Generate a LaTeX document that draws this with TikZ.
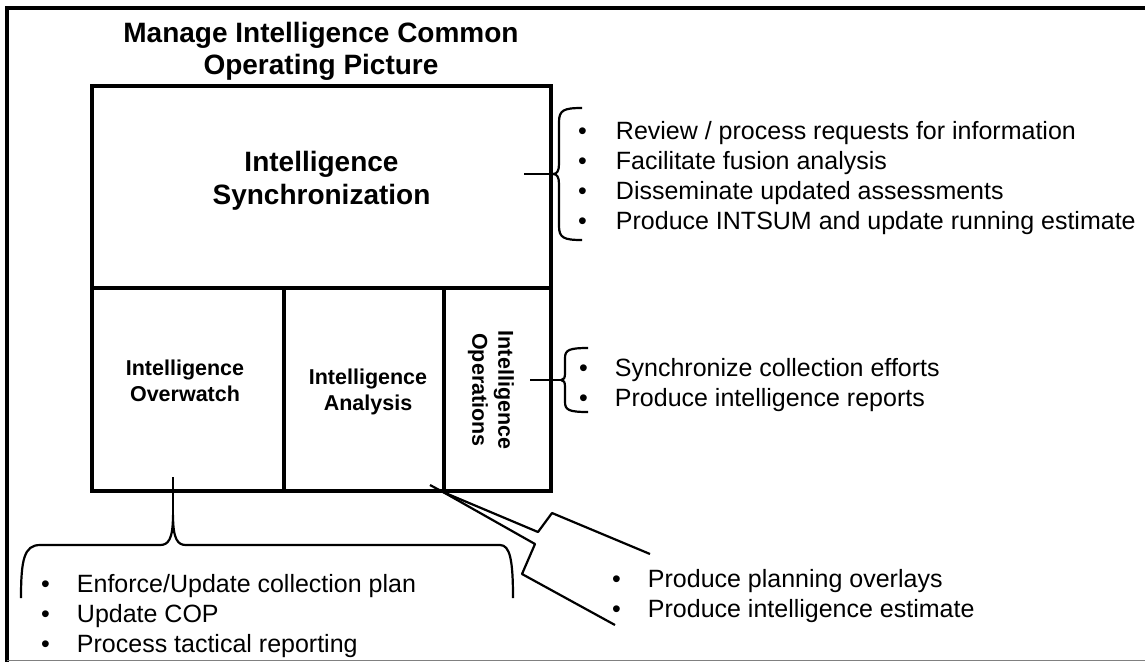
\documentclass[tikz,border=0pt]{standalone}
\usepackage{fontspec}
\setmainfont{Liberation Sans}
\usetikzlibrary{positioning}

\begin{document}
\begin{tikzpicture}[x=1pt,y=-1pt, box/.style={draw,line width=4pt}, cellText/.style={align=center,inner sep=0pt,font=\bfseries\fontsize{21.5}{26}\selectfont}, brace/.style={draw,line width=2.2pt,line join=round}, items/.style={anchor=base west,inner sep=0pt,font=\fontsize{25}{30}\selectfont}]
\useasboundingbox (0,0) rectangle (1145,662);
\fill[white] (0,0) rectangle (1145,662);
\draw[line width=4pt] (1145,8) -- (7,8) -- (7,662);
\draw[gray,line width=1.5pt] (7,660.5) -- (1145,660.5);
\node[align=center,inner sep=0pt,font=\bfseries\fontsize{28}{32}\selectfont] (title) at (321,51.5) {Manage Intelligence Common\\Operating Picture};
% the cells
\draw[box] (92,86) rectangle (551,491);
\draw[box] (92,288) -- (551,288) (284,288) -- (284,491) (444,288) -- (444,491);
\node[cellText,font=\bfseries\fontsize{28}{33}\selectfont] (sync) at (321.5,181) {Intelligence\\Synchronization};
\node[cellText] (overwatch) at (185,381) {Intelligence\\Overwatch};
\node[cellText] (analysis) at (368,392) {Intelligence\\Analysis};
\node[cellText,rotate=-90] (operations) at (491,390) {Intelligence\\Operations};
\coordinate (syncTip) at (524,174);
\coordinate (opsTip) at (530,380);
\coordinate (watchTip) at (173,477);
\coordinate (anaTip) at (430,485);
% braces
\draw[brace] (syncTip) -- (553,174);
\draw[brace] (582,108) .. controls (564,108) and (559,110) .. (559,122) -- (559,164) .. controls (559,171) and (557,174) .. (553,174) .. controls (557,174) and (559,177) .. (559,184) -- (559,226) .. controls (559,238) and (564,240) .. (582,240);
\draw[brace] (opsTip) -- (561,380);
\draw[brace] (588,348) .. controls (569,348) and (565,350) .. (565,358) -- (565,373) .. controls (565,378) and (564,380) .. (561,380) .. controls (564,380) and (565,382) .. (565,387) -- (565,402) .. controls (565,410) and (569,412) .. (588,412);
\draw[brace] (watchTip) -- (173,515);
\draw[brace] (21,598) .. controls (21,560) and (24,545) .. (40,545) -- (160,545) .. controls (168,545) and (173,540) .. (173,515) .. controls (173,540) and (178,545) .. (186,545) -- (500,545) .. controls (510,545) and (513,560) .. (513,598);
\draw[brace] (anaTip) -- (443,492) -- (538,532) -- (552,513) -- (650,554);
\draw[brace] (443,492) -- (535,544) -- (522,574) -- (615,625);
% the lists
\node[items] (syncList) at (578,139) {\begin{tabular}[t]{@{}l@{\hspace{29pt}}l@{}}\textbullet & Review / process requests for information\\ \textbullet & Facilitate fusion analysis\\ \textbullet & Disseminate updated assessments\\ \textbullet & Produce INTSUM and update running estimate\end{tabular}};
\node[items] (opsList) at (579,376) {\begin{tabular}[t]{@{}l@{\hspace{27pt}}l@{}}\textbullet & Synchronize collection efforts\\ \textbullet & Produce intelligence reports\end{tabular}};
\node[items] (watchList) at (41,592) {\begin{tabular}[t]{@{}l@{\hspace{27pt}}l@{}}\textbullet & Enforce/Update collection plan\\ \textbullet & Update COP\\ \textbullet & Process tactical reporting\end{tabular}};
\node[items] (anaList) at (612,587) {\begin{tabular}[t]{@{}l@{\hspace{27pt}}l@{}}\textbullet & Produce planning overlays\\ \textbullet & Produce intelligence estimate\end{tabular}};
\end{tikzpicture}
\end{document}
